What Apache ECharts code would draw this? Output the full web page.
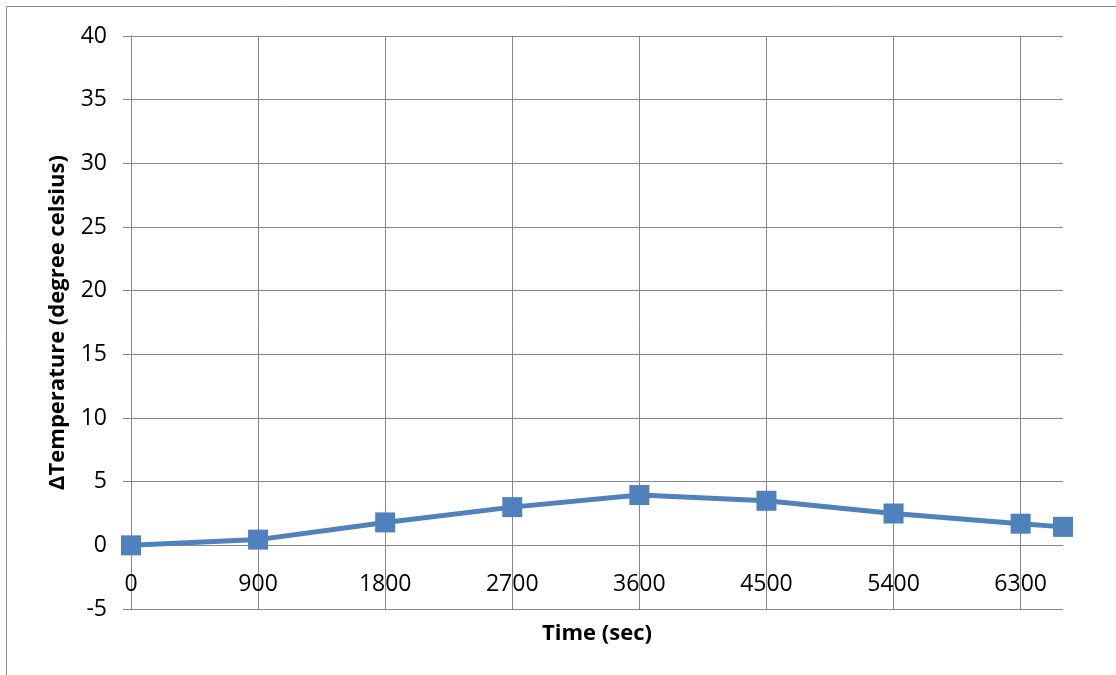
<!DOCTYPE html>
<html>
<head>
<meta charset="utf-8">
<script src="https://cdn.jsdelivr.net/npm/echarts@6/dist/echarts.min.js"></script>
<style>html,body{margin:0;padding:0;background:#fff;}#c{width:1116px;height:675px;}</style>
</head>
<body>
<div id="c"></div>
<script>
const timeSec = [0, 900, 1800, 2700, 3600, 4500, 5400, 6300, 6600];
const deltaTemp = [0, 0.45, 1.8, 3.0, 3.95, 3.5, 2.5, 1.7, 1.45];
const xTitle = 'Time (sec)';
const yTitle = 'ΔTemperature (degree celsius)';
const yMin = -5, yMax = 40;

const chart = echarts.init(document.getElementById('c'));
const gridColor = '#878787';
const font = '"Open Sans", "Liberation Sans", sans-serif';
const gridTop = 36, gridBottom = 66, H = 675;
const plotH = H - gridTop - gridBottom;
// distance from the bottom of the plot up to the y = 0 line, so the x axis sits on zero
const zeroOffset = -plotH * (0 - yMin) / (yMax - yMin);
chart.setOption({
  animation: false,
  backgroundColor: '#ffffff',
  graphic: [{
    type: 'rect', silent: true, z: -1,
    shape: { x: 6.5, y: 6.5, width: 1200, height: 800 },
    style: { fill: 'none', stroke: '#8a8a8a', lineWidth: 1 }
  }],
  grid: { left: 131, top: gridTop, right: 53, bottom: gridBottom, containLabel: false, outerBoundsMode: 'none' },
  xAxis: {
    type: 'value', min: 0, max: 6600, interval: 900,
    position: 'bottom', offset: zeroOffset,
    name: xTitle, nameLocation: 'middle', nameGap: 77,
    nameTextStyle: { fontFamily: font, fontWeight: 'bold', fontSize: 22, color: '#000' },
    axisLine: { show: true, onZero: false, lineStyle: { color: gridColor, width: 1 } },
    axisTick: { show: false },
    axisLabel: { showMaxLabel: false, margin: 28, fontFamily: font, fontSize: 23, color: '#000',
      formatter: v => String(v) },
    splitLine: { show: true, showMinLine: true, showMaxLine: false, lineStyle: { color: gridColor, width: 1 } }
  },
  yAxis: {
    type: 'value', min: yMin, max: yMax, interval: 5,
    name: yTitle, nameLocation: 'middle', nameGap: 62, nameRotate: 90,
    nameTextStyle: { fontFamily: font, fontWeight: 'bold', fontSize: 22, color: '#000' },
    axisLine: { show: true, lineStyle: { color: gridColor, width: 1 } },
    axisTick: { show: true, inside: false, length: 8, lineStyle: { color: gridColor, width: 1 } },
    axisLabel: { margin: 24, fontFamily: font, fontSize: 23, color: '#000' },
    splitLine: { show: true, showMinLine: true, showMaxLine: true, lineStyle: { color: gridColor, width: 1 } }
  },
  series: [{
    type: 'line',
    data: timeSec.map((t, i) => [t, deltaTemp[i]]),
    symbol: 'rect', symbolSize: 20,
    lineStyle: { color: '#4F81BD', width: 5 },
    itemStyle: { color: '#4F81BD' },
    clip: false
  }]
});
</script>
</body>
</html>
